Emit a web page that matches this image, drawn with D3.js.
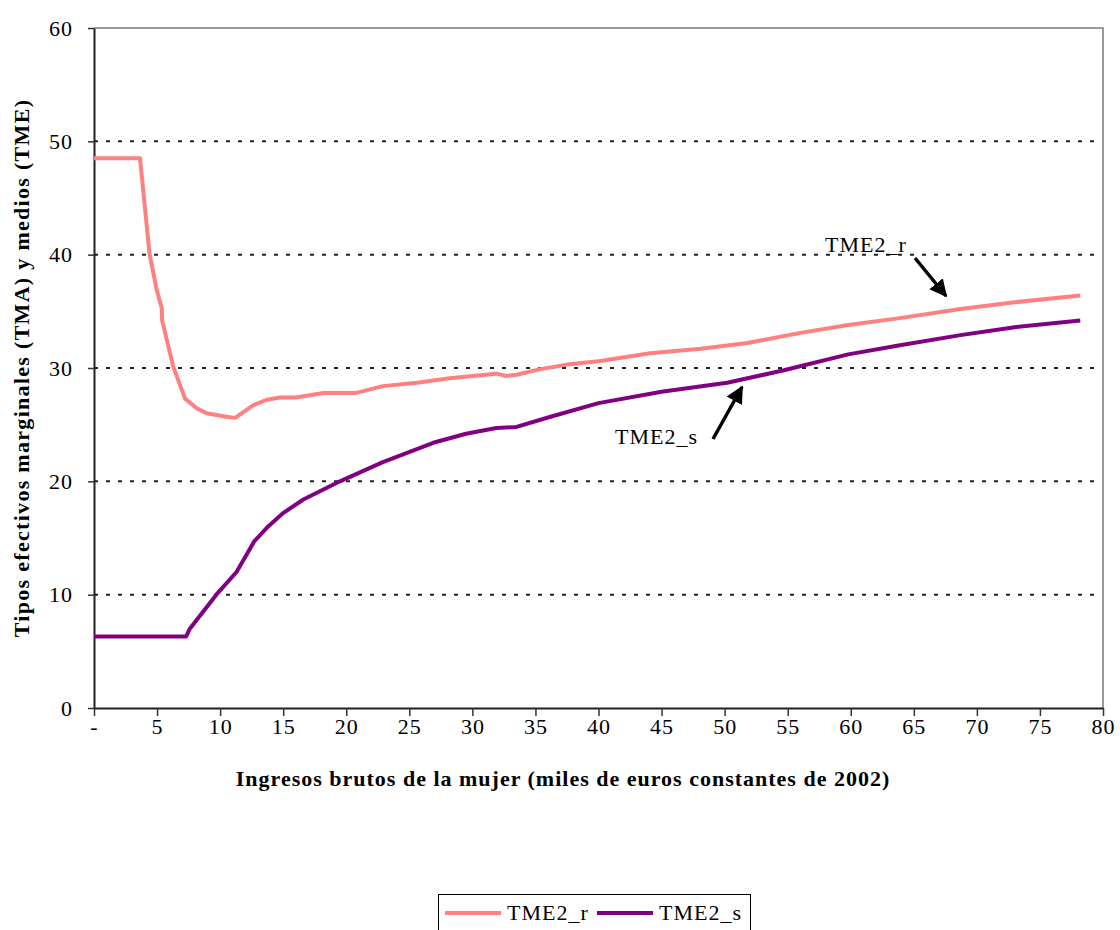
<!DOCTYPE html>
<html><head><meta charset="utf-8">
<script src="https://cdn.jsdelivr.net/npm/d3@7"></script>
<style>body{margin:0;background:#fff}svg{display:block}text{font-family:"Liberation Serif","Times New Roman",serif}</style>
</head><body>
<script>
const xTicks = [0,5,10,15,20,25,30,35,40,45,50,55,60,65,70,75,80];
const yTicks = [0,10,20,30,40,50,60];
const seriesNames = ["TME2_r","TME2_s"];
const rX = [0,3.65,4.4,4.97,5.37,5.4,6.29,7.22,8.14,8.93,10.5,11.2,12.6,13.7,14.75,16,18.2,20.8,22.9,25.6,28.2,31.9,32.7,33.5,35.4,37.5,40.0,44.1,48.1,51.8,56.0,59.8,63.9,68.7,73.0,78.2];
const rY = [48.5,48.5,40.1,36.9,35.3,34.2,30.1,27.3,26.45,26.0,25.7,25.6,26.7,27.2,27.4,27.4,27.8,27.8,28.4,28.7,29.1,29.5,29.3,29.4,29.9,30.3,30.6,31.3,31.7,32.2,33.1,33.8,34.4,35.2,35.8,36.4];
const sX = [0,7.3,7.6,9.7,11.3,12.7,13.7,15.0,16.6,19.5,22.9,26.9,29.5,31.9,33.5,36.2,40.0,45.0,50.2,54.7,59.8,63.9,68.7,73.0,78.2];
const sY = [6.3,6.3,7.0,10.0,12.0,14.7,15.9,17.2,18.4,20.0,21.7,23.4,24.2,24.7,24.8,25.7,26.9,27.9,28.7,29.8,31.2,32.0,32.9,33.6,34.2];
const colors = ["#FF8080","#800080"];

const W=1120,H=930;
const svg=d3.select("body").append("svg").attr("width",W).attr("height",H);
const x=d3.scaleLinear().domain([0,80]).range([94,1103]);
const y=d3.scaleLinear().domain([0,60]).range([708,28]);

// gridlines
svg.append("g").selectAll("line").data(yTicks.filter(d=>d>0)).join("line")
  .attr("x1",x(0)).attr("x2",x(80)).attr("y1",d=>y(d)).attr("y2",d=>y(d))
  .attr("stroke","#222").attr("stroke-width",2).attr("stroke-dasharray","4,8");

// border top/right
svg.append("path").attr("d",`M${x(0)},${y(60)}H${x(80)}V${y(0)}`).attr("fill","none").attr("stroke","#999").attr("stroke-width",2);

// axes
const xa=svg.append("g").attr("transform",`translate(0,${y(0)})`)
  .call(d3.axisBottom(x).tickValues(xTicks).tickSize(8).tickSizeOuter(0).tickFormat(d=>d===0?"-":d));
const ya=svg.append("g").attr("transform",`translate(${x(0)},0)`)
  .call(d3.axisLeft(y).tickValues(yTicks).tickSize(6).tickSizeOuter(0));
[xa,ya].forEach(g=>{g.select(".domain").attr("stroke","#222").attr("stroke-width",2);
  g.selectAll(".tick line").attr("stroke","#333").attr("stroke-width",1.5);
  g.selectAll("text").attr("font-family","Liberation Serif").attr("font-size",22).attr("fill","#000").attr("letter-spacing",1);});
xa.selectAll("text").attr("dy",null).attr("y",18).attr("dominant-baseline","auto").attr("transform",null).attr("y",26);
ya.selectAll("text").attr("x",-21).attr("dy","0.32em");

// lines
const line=d3.line().x(d=>x(d[0])).y(d=>y(d[1]));
const data=[d3.zip(rX,rY),d3.zip(sX,sY)];
svg.append("g").selectAll("path").data(data).join("path")
  .attr("d",line).attr("fill","none").attr("stroke",(d,i)=>colors[i]).attr("stroke-width",4).attr("stroke-linejoin","round");

// axis titles
svg.append("text").attr("x",563).attr("y",786).attr("text-anchor","middle").attr("font-weight","bold")
  .attr("font-size",22).attr("letter-spacing",1).text("Ingresos brutos de la mujer (miles de euros constantes de 2002)");
svg.append("text").attr("transform","translate(29,368) rotate(-90)").attr("text-anchor","middle").attr("font-weight","bold")
  .attr("font-size",22).attr("letter-spacing",1.3).text("Tipos efectivos marginales (TMA) y medios (TME)");

// annotations
const defs=svg.append("defs");
defs.append("marker").attr("id","ah").attr("viewBox","0 0 10 10").attr("refX",9).attr("refY",5)
  .attr("markerWidth",5).attr("markerHeight",5).attr("orient","auto")
  .append("path").attr("d","M0,0L10,5L0,10z").attr("fill","#000");
svg.append("text").attr("x",825).attr("y",252).attr("font-size",22).attr("letter-spacing",1).text(seriesNames[0]);
svg.append("text").attr("x",615).attr("y",444).attr("font-size",22).attr("letter-spacing",1).text(seriesNames[1]);
svg.append("line").attr("x1",915).attr("y1",258).attr("x2",946).attr("y2",296).attr("stroke","#000").attr("stroke-width",3.5).attr("marker-end","url(#ah)");
svg.append("line").attr("x1",713).attr("y1",439).attr("x2",742).attr("y2",387).attr("stroke","#000").attr("stroke-width",3.5).attr("marker-end","url(#ah)");

// legend
const lg=svg.append("g");
lg.append("rect").attr("x",438.5).attr("y",894.5).attr("width",312).attr("height",44).attr("fill","#fff").attr("stroke","#000").attr("stroke-width",1);
const lx=[445,597];
seriesNames.forEach((n,i)=>{
  lg.append("line").attr("x1",lx[i]).attr("x2",lx[i]+56).attr("y1",913).attr("y2",913).attr("stroke",colors[i]).attr("stroke-width",4);
  lg.append("text").attr("x",lx[i]+62).attr("y",920).attr("font-size",22).attr("letter-spacing",1).text(n);
});
</script>
</body></html>
